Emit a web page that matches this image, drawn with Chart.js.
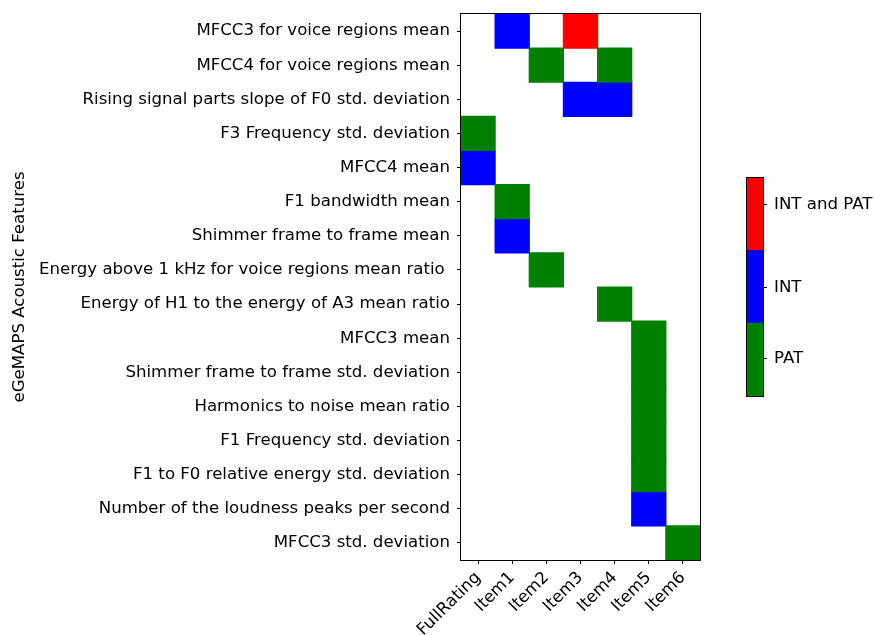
<!DOCTYPE html>
<html>
<head>
<meta charset="utf-8">
<script src="https://cdn.jsdelivr.net/npm/chart.js@4/dist/chart.umd.min.js"></script>
<style>
  html, body { margin: 0; padding: 0; background: #ffffff; }
  #wrap { position: relative; width: 874px; height: 635px; }
  #wrap canvas { position: absolute; left: 0; top: 0; }
</style>
</head>
<body>
<div id="wrap">
  <canvas id="heat" width="874" height="635"></canvas>
  <canvas id="cbar" width="874" height="635"></canvas>
</div>
<script>
// Feature names (rows, top to bottom)
const features = [
  "MFCC3 for voice regions mean",
  "MFCC4 for voice regions mean",
  "Rising signal parts slope of F0 std. deviation",
  "F3 Frequency std. deviation",
  "MFCC4 mean",
  "F1 bandwidth mean",
  "Shimmer frame to frame mean",
  "Energy above 1 kHz for voice regions mean ratio ",
  "Energy of H1 to the energy of A3 mean ratio",
  "MFCC3 mean",
  "Shimmer frame to frame std. deviation",
  "Harmonics to noise mean ratio",
  "F1 Frequency std. deviation",
  "F1 to F0 relative energy std. deviation",
  "Number of the loudness peaks per second",
  "MFCC3 std. deviation"
];

// Rating targets (columns)
const targets = ["FullRating", "Item1", "Item2", "Item3", "Item4", "Item5", "Item6"];

// Class codes: 0 = none, 1 = PAT, 2 = INT, 3 = INT and PAT
const classNames = ["PAT", "INT", "INT and PAT"];
const classColors = ["#008000", "#0000ff", "#ff0000"];
// Colour-bar tick positions (in class units, bar spans 0..3)
const cbTickValues = [0.52, 1.49, 2.63];

const cellCodes = [
  [0, 2, 0, 3, 0, 0, 0],
  [0, 0, 1, 0, 1, 0, 0],
  [0, 0, 0, 2, 2, 0, 0],
  [1, 0, 0, 0, 0, 0, 0],
  [2, 0, 0, 0, 0, 0, 0],
  [0, 1, 0, 0, 0, 0, 0],
  [0, 2, 0, 0, 0, 0, 0],
  [0, 0, 1, 0, 0, 0, 0],
  [0, 0, 0, 0, 1, 0, 0],
  [0, 0, 0, 0, 0, 1, 0],
  [0, 0, 0, 0, 0, 1, 0],
  [0, 0, 0, 0, 0, 1, 0],
  [0, 0, 0, 0, 0, 1, 0],
  [0, 0, 0, 0, 0, 1, 0],
  [0, 0, 0, 0, 0, 2, 0],
  [0, 0, 0, 0, 0, 0, 1]
];

const FONT = { family: "'DejaVu Sans', sans-serif", size: 16.6 };
Chart.defaults.font.family = FONT.family;
Chart.defaults.color = "#000000";

// One floating-bar dataset per class; each cell spans [col-0.5, col+0.5]
const heatDatasets = classNames.map((name, k) => {
  const pts = [];
  cellCodes.forEach((row, r) => {
    row.forEach((code, c) => {
      if (code === k + 1) pts.push({ x: [c - 0.5, c + 0.5], y: features[r] });
    });
  });
  return {
    label: name,
    data: pts,
    backgroundColor: classColors[k],
    borderWidth: 0,
    inflateAmount: 0.6,
    barPercentage: 1,
    categoryPercentage: 1,
    grouped: false
  };
});

// Black frame around the plotting area
const frame = {
  id: "frame",
  afterDatasetsDraw(chart) {
    const a = chart.chartArea, ctx = chart.ctx;
    ctx.save();
    ctx.strokeStyle = "#000000";
    ctx.lineWidth = 1;
    ctx.strokeRect(Math.round(a.left) - 0.5, Math.round(a.top) - 0.5,
                   Math.round(a.right - a.left) + 1, Math.round(a.bottom - a.top) + 1);
    ctx.restore();
  }
};

new Chart(document.getElementById("heat"), {
  type: "bar",
  data: { labels: features, datasets: heatDatasets },
  options: {
    indexAxis: "y",
    responsive: false,
    animation: false,
    layout: { padding: { left: 0, top: 14, right: 174, bottom: 0 } },
    plugins: { legend: { display: false }, tooltip: { enabled: false } },
    scales: {
      x: {
        type: "linear",
        min: -0.5,
        max: 6.5,
        afterBuildTicks: (s) => { s.ticks = targets.map((_, i) => ({ value: i })); },
        afterFit: (s) => { s.height = 75; },
        ticks: {
          autoSkip: false,
          minRotation: 45,
          maxRotation: 45,
          padding: 4,
          font: FONT,
          color: "#000000",
          callback: (v) => targets[v]
        },
        grid: { drawOnChartArea: false, drawTicks: true, tickLength: 4, color: "#000000" },
        border: { display: false }
      },
      y: {
        type: "category",
        afterFit: (s) => { s.width = 461; s.paddingTop = 0; s.paddingBottom = 0; },
        ticks: { autoSkip: false, padding: 7, font: FONT, color: "#000000" },
        grid: { offset: false, drawOnChartArea: false, drawTicks: true, tickLength: 4, color: "#000000" },
        border: { display: false },
        title: {
          display: true,
          text: "eGeMAPS Acoustic Features",
          font: FONT,
          color: "#000000",
          padding: { top: 10, bottom: 0 }
        }
      }
    }
  },
  plugins: [frame]
});

// Colour bar: three stacked unit segments with class names on the right
const cbDatasets = classNames.map((name, k) => ({
  label: name,
  data: [[k, k + 1]],
  backgroundColor: classColors[k],
  borderWidth: 0,
  inflateAmount: 0.6,
  barPercentage: 1,
  categoryPercentage: 1,
  grouped: false
}));

new Chart(document.getElementById("cbar"), {
  type: "bar",
  data: { labels: [""], datasets: cbDatasets },
  options: {
    responsive: false,
    animation: false,
    layout: { padding: { left: 747, top: 178, right: 0, bottom: 239 } },
    plugins: { legend: { display: false }, tooltip: { enabled: false } },
    scales: {
      x: { display: false },
      y: {
        type: "linear",
        position: "right",
        min: 0,
        max: 3,
        afterFit: (s) => { s.width = 111; },
        afterBuildTicks: (s) => { s.ticks = cbTickValues.map((v) => ({ value: v })); },
        ticks: {
          padding: 7,
          font: FONT,
          color: "#000000",
          callback: (v) => classNames[Math.floor(v)]
        },
        grid: { drawOnChartArea: false, drawTicks: true, tickLength: 4, color: "#000000" },
        border: { display: false }
      }
    }
  },
  plugins: [frame]
});
</script>
</body>
</html>
